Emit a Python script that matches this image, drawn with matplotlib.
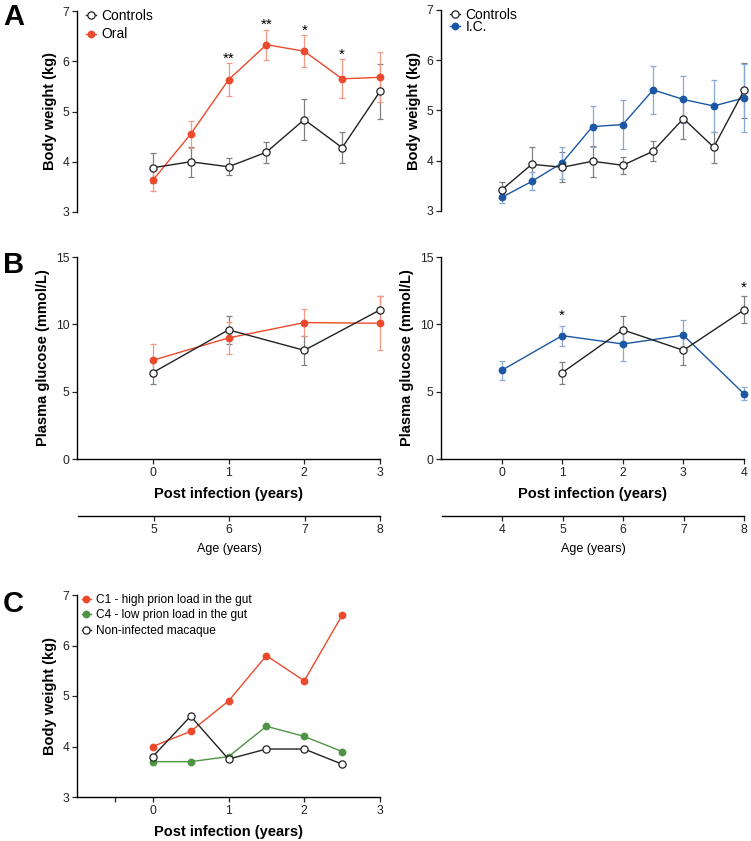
import matplotlib
matplotlib.use("Agg")
import matplotlib.pyplot as plt
import numpy as np

plt.rcParams['font.family'] = ['Liberation Sans', 'DejaVu Sans']

RED = '#ec4a2c'
RED_E = '#f29a86'
BLUE = '#1b57a3'
BLUE_E = '#8aa9d2'
GREEN = '#4f9444'
BLACK = '#222222'
GRAY_E = '#808080'

# ---------- Panel A (left): body weight, oral ----------
a_left_x = [0, 0.5, 1, 1.5, 2, 2.5, 3]
a_left_ctrl = [3.88, 4.00, 3.90, 4.19, 4.84, 4.28, 5.40]
a_left_ctrl_err = [0.30, 0.30, 0.17, 0.21, 0.40, 0.31, 0.55]
a_oral = [3.63, 4.55, 5.63, 6.33, 6.20, 5.65, 5.68]
a_oral_err = [0.22, 0.27, 0.33, 0.30, 0.32, 0.39, 0.50]
a_oral_stars = ['', '', '**', '**', '*', '*', '']

# ---------- Panel A (right): body weight, I.C. ----------
a_right_x = [0, 0.5, 1, 1.5, 2, 2.5, 3, 3.5, 4]
a_right_ctrl = [3.42, 3.93, 3.87, 3.99, 3.91, 4.19, 4.84, 4.27, 5.40]
a_right_ctrl_err = [0.15, 0.34, 0.30, 0.31, 0.17, 0.20, 0.40, 0.31, 0.55]
a_ic = [3.27, 3.59, 3.96, 4.68, 4.72, 5.41, 5.22, 5.09, 5.25]
a_ic_err = [0.12, 0.18, 0.32, 0.41, 0.48, 0.48, 0.46, 0.52, 0.68]

# ---------- Panel B (left): glucose, oral ----------
b_left_x = [0, 1, 2, 3]
b_left_ctrl = [6.41, 9.59, 8.07, 11.07]
b_left_ctrl_err = [0.85, 1.05, 1.10, 1.00]
b_oral = [7.33, 8.99, 10.13, 10.08]
b_oral_err = [1.20, 1.20, 1.00, 2.00]
b_left_ages = [5, 6, 7, 8]

# ---------- Panel B (right): glucose, I.C. ----------
b_right_ctrl_x = [1, 2, 3, 4]
b_right_ctrl = [6.41, 9.59, 8.07, 11.07]
b_right_ctrl_err = [0.82, 1.05, 1.10, 1.00]
b_ic_x = [0, 1, 2, 3, 4]
b_ic = [6.58, 9.16, 8.54, 9.19, 4.84]
b_ic_err = [0.70, 0.75, 1.25, 1.15, 0.47]
b_right_ages = [4, 5, 6, 7, 8]
b_right_star_x = [1, 4]
b_right_star_y = [10.1, 12.2]

# ---------- Panel C ----------
c_x = [0, 0.5, 1, 1.5, 2, 2.5]
c_c1 = [4.0, 4.3, 4.9, 5.8, 5.3, 6.6]
c_c4 = [3.7, 3.7, 3.8, 4.4, 4.2, 3.9]
c_ctrl = [3.8, 4.6, 3.75, 3.95, 3.95, 3.65]

W, H = 751, 841
fig = plt.figure(figsize=(W / 100, H / 100), dpi=100)

def px_axes(x0, x1, ytop, ybot):
    return fig.add_axes([x0 / W, 1 - ybot / H, (x1 - x0) / W, (ybot - ytop) / H])

TICK_FS = 8.7
LAB_FS = 10.5

def style(ax, bottom=True):
    for s in ['top', 'right']:
        ax.spines[s].set_visible(False)
    ax.spines['left'].set_linewidth(1.0)
    ax.spines['bottom'].set_linewidth(1.0)
    if not bottom:
        ax.spines['bottom'].set_visible(False)
        ax.tick_params(axis='x', bottom=False, labelbottom=False)
    ax.tick_params(axis='both', direction='out', length=3.5, width=0.9,
                   labelsize=TICK_FS, colors='#222222', pad=2)
    ax.set_facecolor('none')

def ctrl_line(ax, x, y, e=None, label=None):
    if e is not None:
        eb = ax.errorbar(x, y, yerr=e, fmt='none', ecolor=GRAY_E, elinewidth=0.9,
                         capsize=2.5, capthick=0.9, zorder=2)
        for art in eb.get_children():
            art.set_clip_on(False)
    ax.plot(x, y, '-o', color=BLACK, lw=1.0, ms=5.2, mfc='white', mec=BLACK,
            mew=0.9, label=label, zorder=4, clip_on=False)

def fill_line(ax, x, y, e, c, ce, label=None):
    if e is not None:
        eb = ax.errorbar(x, y, yerr=e, fmt='none', ecolor=ce, elinewidth=0.9,
                         capsize=2.5, capthick=0.9, zorder=2)
        for art in eb.get_children():
            art.set_clip_on(False)
    ax.plot(x, y, '-o', color=c, lw=1.0, ms=4.6, mfc=c, mec=c, label=label,
            zorder=3, clip_on=False)

# --- A left
ax1 = px_axes(77, 380, 11, 212)
ctrl_line(ax1, a_left_x, a_left_ctrl, a_left_ctrl_err, 'Controls')
fill_line(ax1, a_left_x, a_oral, a_oral_err, RED, RED_E, 'Oral')
for xx, yy, ee, s in zip(a_left_x, a_oral, a_oral_err, a_oral_stars):
    if s:
        ax1.text(xx, yy + ee - 0.05, s, ha='center', va='bottom', fontsize=11)
ax1.set_xlim(-1, 3)
ax1.set_ylim(3, 7)
ax1.set_yticks([3, 4, 5, 6, 7])
ax1.set_ylabel('Body weight (kg)', fontsize=LAB_FS, fontweight='bold', labelpad=4)
style(ax1, bottom=False)
ax1.legend(loc='upper left', bbox_to_anchor=(0.01, 1.04), frameon=False,
           fontsize=10, handlelength=0.75, handletextpad=0.4, labelspacing=0.35,
           borderaxespad=0)

# --- A right
ax2 = px_axes(441, 744, 10, 211)
ctrl_line(ax2, a_right_x, a_right_ctrl, a_right_ctrl_err, 'Controls')
fill_line(ax2, a_right_x, a_ic, a_ic_err, BLUE, BLUE_E, 'I.C.')
ax2.set_xlim(-1, 4)
ax2.set_ylim(3, 7)
ax2.set_yticks([3, 4, 5, 6, 7])
ax2.set_ylabel('Body weight (kg)', fontsize=LAB_FS, fontweight='bold', labelpad=4)
style(ax2, bottom=False)
ax2.legend(loc='upper left', bbox_to_anchor=(0.01, 1.04), frameon=False,
           fontsize=10, handlelength=0.75, handletextpad=0.4, labelspacing=-0.1,
           borderaxespad=0)

# --- B left
ax3 = px_axes(77, 380, 257, 459)
ctrl_line(ax3, b_left_x, b_left_ctrl, b_left_ctrl_err)
fill_line(ax3, b_left_x, b_oral, b_oral_err, RED, RED_E)
ax3.set_xlim(-1, 3)
ax3.set_ylim(0, 15)
ax3.set_yticks([0, 5, 10, 15])
ax3.set_xticks([0, 1, 2, 3])
ax3.set_ylabel('Plasma glucose (mmol/L)', fontsize=LAB_FS, fontweight='bold', labelpad=4)
ax3.set_xlabel('Post infection (years)', fontsize=LAB_FS, fontweight='bold', labelpad=6)
style(ax3)

# --- B right
ax4 = px_axes(441, 744, 257, 459)
ctrl_line(ax4, b_right_ctrl_x, b_right_ctrl, b_right_ctrl_err)
fill_line(ax4, b_ic_x, b_ic, b_ic_err, BLUE, BLUE_E)
for xx, yy in zip(b_right_star_x, b_right_star_y):
    ax4.text(xx, yy, '*', ha='center', va='bottom', fontsize=11)
ax4.set_xlim(-1, 4)
ax4.set_ylim(0, 15)
ax4.set_yticks([0, 5, 10, 15])
ax4.set_xticks([0, 1, 2, 3, 4])
ax4.set_ylabel('Plasma glucose (mmol/L)', fontsize=LAB_FS, fontweight='bold', labelpad=4)
ax4.set_xlabel('Post infection (years)', fontsize=LAB_FS, fontweight='bold', labelpad=6)
style(ax4)

# --- Age axes
def age_axis(x0, x1, ages, offset_lo):
    ax = px_axes(x0, x1, 515.5, 516)
    for s in ['top', 'right', 'left']:
        ax.spines[s].set_visible(False)
    ax.spines['bottom'].set_linewidth(1.0)
    ax.set_yticks([])
    ax.set_xlim(offset_lo, ages[-1])
    ax.set_xticks(ages)
    ax.tick_params(axis='x', direction='out', length=3.5, width=0.9,
                   labelsize=TICK_FS, colors='#222222', pad=2)
    ax.set_xlabel('Age (years)', fontsize=9, labelpad=5)
    ax.set_facecolor('none')
    return ax

age_axis(78, 380, b_left_ages, b_left_ages[0] - 1)
age_axis(442, 744, b_right_ages, b_right_ages[0] - 1)

# --- C
ax5 = px_axes(77, 380, 595, 797)
fill_line(ax5, c_x, c_c1, None, RED, RED_E, 'C1 - high prion load in the gut')
fill_line(ax5, c_x, c_c4, None, GREEN, GREEN, 'C4 - low prion load in the gut')
ctrl_line(ax5, c_x, c_ctrl, None, 'Non-infected macaque')
ax5.set_xlim(-1, 3)
ax5.set_ylim(3, 7)
ax5.set_yticks([3, 4, 5, 6, 7])
ax5.set_xticks([-0.5, 0, 1, 2, 3])
ax5.set_xticklabels(['', '0', '1', '2', '3'])
ax5.set_ylabel('Body weight (kg)', fontsize=LAB_FS, fontweight='bold', labelpad=4)
ax5.set_xlabel('Post infection (years)', fontsize=LAB_FS, fontweight='bold', labelpad=6)
style(ax5)
ax5.legend(loc='upper left', bbox_to_anchor=(0.0, 1.03), frameon=False,
           fontsize=8.6, handlelength=0.75, handletextpad=0.4, labelspacing=0.3,
           borderaxespad=0)

# Panel letters
for lbl, y in [('A', 3), ('B', 251), ('C', 590)]:
    fig.text(3 / W, 1 - y / H, lbl, fontsize=21, fontweight='bold', va='top', ha='left')

fig.savefig('out.png', dpi=100, facecolor='white')
